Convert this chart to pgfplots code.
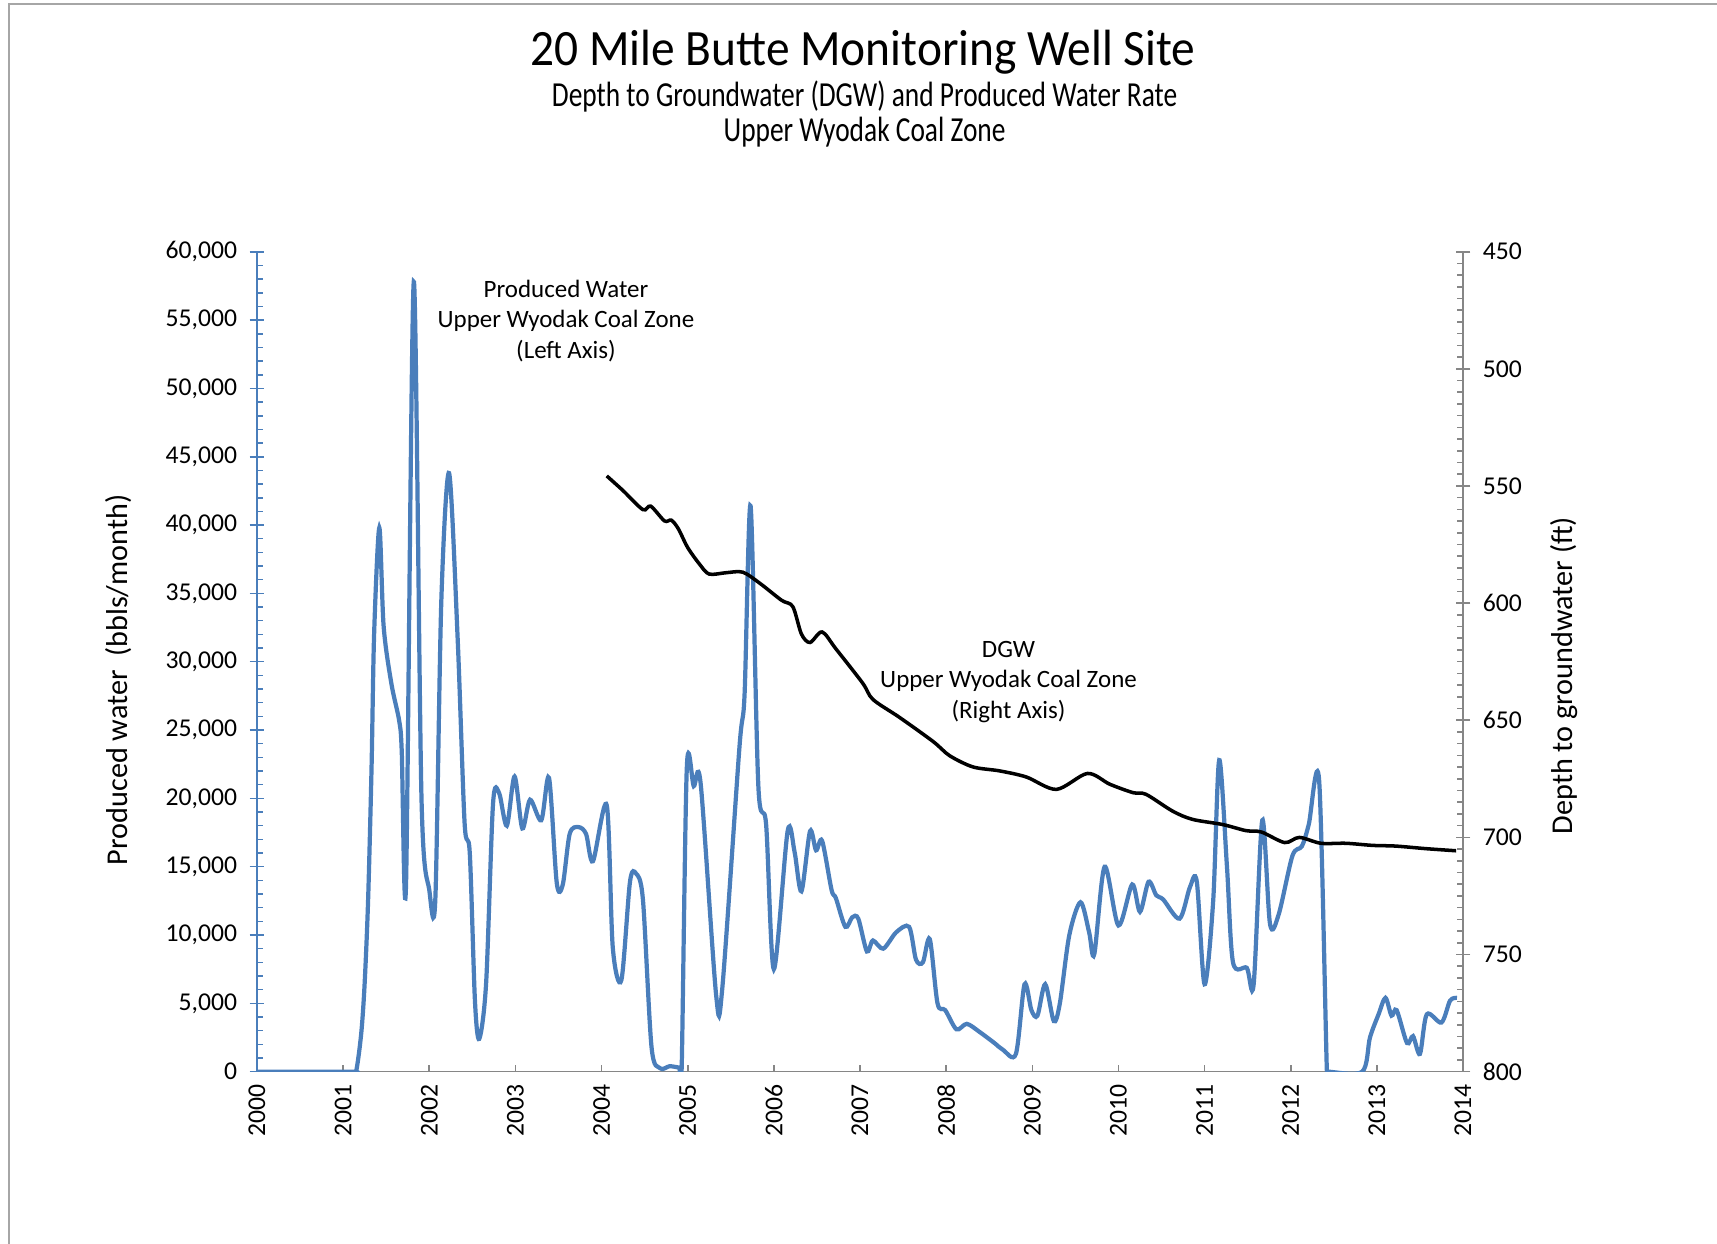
\documentclass[border=0pt]{standalone}
\usepackage{pgfplots}
\usepackage{pgfplotstable}
\pgfplotsset{compat=1.18}
\usepackage{fontspec}
\setmainfont{Carlito}
\definecolor{pwblue}{HTML}{4A7EBB}
\definecolor{axgray}{HTML}{868686}

% produced water, bbls/month (thousands), fractional year
\pgfplotstableread{
yr v
2000.00 0
2001.10 0
2001.15 0
2001.21 2.8
2001.25 6.5
2001.29 12.6
2001.33 22.3
2001.36 32.1
2001.42 39.8
2001.47 32.6
2001.56 28.4
2001.65 25.7
2001.68 23.5
2001.73 13.7
2001.82 57.8
2001.91 19.9
2002.00 13.3
2002.07 12.6
2002.14 34.5
2002.23 43.8
2002.33 31.6
2002.41 18.2
2002.47 16.0
2002.53 5.2
2002.58 2.4
2002.66 6.5
2002.74 19.6
2002.81 20.4
2002.90 18.0
2002.99 21.6
2003.08 17.8
2003.17 19.9
2003.30 18.4
2003.39 21.5
2003.48 13.8
2003.55 13.7
2003.63 17.4
2003.73 17.9
2003.82 17.4
2003.90 15.4
2004.06 19.5
2004.13 9.1
2004.23 6.7
2004.33 13.9
2004.40 14.5
2004.48 12.6
2004.58 1.8
2004.68 0.25
2004.79 0.4
2004.90 0.3
2004.93 0.3
2004.99 22.3
2005.07 20.9
2005.15 21.1
2005.33 5.6
2005.40 6.0
2005.60 23.7
2005.66 27.6
2005.73 41.4
2005.82 20.9
2005.91 18.1
2006.00 7.5
2006.16 17.6
2006.24 16.1
2006.32 13.2
2006.42 17.6
2006.49 16.2
2006.56 16.9
2006.67 13.3
2006.72 12.7
2006.83 10.6
2006.91 11.3
2006.98 11.2
2007.08 8.8
2007.15 9.6
2007.27 9.0
2007.42 10.2
2007.57 10.6
2007.65 8.2
2007.73 8.0
2007.81 9.7
2007.90 5.0
2007.99 4.5
2008.12 3.1
2008.24 3.5
2008.39 2.9
2008.56 2.1
2008.66 1.6
2008.81 1.3
2008.91 6.4
2008.99 4.5
2009.06 4.1
2009.15 6.4
2009.25 3.7
2009.32 5.0
2009.43 10.0
2009.56 12.4
2009.66 10.2
2009.72 8.6
2009.84 15.0
2010.00 10.7
2010.16 13.7
2010.25 11.7
2010.35 13.9
2010.44 12.9
2010.52 12.6
2010.71 11.2
2010.83 13.5
2010.91 13.9
2011.00 6.4
2011.10 12.5
2011.17 22.8
2011.26 15.0
2011.33 8.0
2011.49 7.6
2011.57 6.4
2011.67 18.4
2011.76 10.8
2011.86 11.5
2012.02 15.8
2012.13 16.5
2012.21 18.1
2012.33 21.3
2012.42 0
2012.44 0
2012.83 0
2012.92 2.5
2013.02 4.2
2013.10 5.4
2013.17 4.1
2013.23 4.5
2013.35 2.1
2013.42 2.6
2013.50 1.3
2013.58 4.2
2013.75 3.6
2013.85 5.2
2013.93 5.4
}\water

% depth to groundwater, ft
\pgfplotstableread{
yr d
2004.06 545.7
2004.25 552.0
2004.48 560.1
2004.57 558.6
2004.73 564.9
2004.81 564.6
2004.89 568.2
2005.00 576.3
2005.14 583.5
2005.25 587.6
2005.45 587.0
2005.64 586.8
2005.84 591.6
2006.09 598.8
2006.22 601.5
2006.32 613.2
2006.42 616.8
2006.56 612.3
2006.72 619.5
2007.03 634.1
2007.15 641.1
2007.46 648.8
2007.85 659.1
2008.04 665.1
2008.31 669.9
2008.62 671.6
2008.93 674.2
2009.28 679.5
2009.64 672.7
2009.90 677.3
2010.17 680.9
2010.32 681.6
2010.63 688.8
2010.86 692.3
2011.21 694.5
2011.48 697.1
2011.66 697.7
2011.93 702.2
2012.10 700.0
2012.35 702.5
2012.64 702.5
2012.95 703.4
2013.22 703.7
2013.57 704.8
2013.92 705.7
}\dgw

\pgfplotsset{
  base/.style={
    at={(2.57cm,1.723cm)}, anchor=south west,
    scale only axis, width=12.06cm, height=8.2cm,
    xmin=2000, xmax=2014,
    ticklabel style={font=\fontsize{7.3}{8}\selectfont},
    /pgf/number format/assume math mode=true,
    label style={font=\fontsize{8.6}{10}\selectfont},
  }
}

\begin{document}
\begin{tikzpicture}[x=1cm,y=1cm]
\useasboundingbox (0,0) rectangle (17.17,12.44);
\draw[gray!70, line width=0.6pt] (0.09,0) -- (0.09,12.40) -- (17.17,12.40);

% x axis
\begin{axis}[base, ymin=0, ymax=1, axis y line=none, axis x line*=bottom,
  xtick={2000,2001,...,2014}, minor x tick num=11,
  tick align=inside, major tick length=0.07cm, minor tick length=0.045cm,
  x axis line style={axgray, line width=0.45pt}, tick style={axgray, line width=0.45pt},
  xticklabel style={rotate=90, anchor=east, /pgf/number format/1000 sep={}},
]
\end{axis}

% produced water, left axis
\begin{axis}[base, ymin=0, ymax=60000, axis x line=none, axis y line*=left,
  ytick={0,5000,...,60000}, minor y tick num=4, scaled y ticks=false,
  tick align=center, major tick length=0.15cm, minor tick length=0.06cm,
  minor tick style={xshift=0.03cm},
  y axis line style={pwblue, line width=0.45pt}, tick style={pwblue, line width=0.45pt},
  yticklabel style={/pgf/number format/1000 sep={,}},
  ylabel={Produced water\ \ (bbls/month)},
  ylabel style={at={(axis description cs:-0.115,0.478)}, anchor=center},
]
\addplot[pwblue, line width=1.2pt, smooth, tension=0.5] table[x=yr, y expr=\thisrow{v}*1000] {\water};
\end{axis}

% depth to groundwater, right axis
\begin{axis}[base, ymin=450, ymax=800, y dir=reverse, axis x line=none, axis y line*=right,
  ytick={450,500,...,800}, minor y tick num=9,
  tick align=center, major tick length=0.15cm, minor tick length=0.06cm,
  minor tick style={xshift=-0.03cm},
  y axis line style={axgray, line width=0.45pt}, tick style={axgray, line width=0.45pt},
  ylabel={Depth to groundwater (ft)},
  ylabel style={at={(axis description cs:1.084,0.483)}, anchor=center},
]
\addplot[black, line width=1pt, smooth, tension=0.5] table[x=yr, y=d] {\dgw};
\end{axis}

\node at (8.63,11.92) {\fontsize{14.5}{16}\selectfont\scalebox{0.93}[1]{20 Mile Butte Monitoring Well Site}};
\node at (8.646,11.48) {\fontsize{10}{12}\selectfont\scalebox{0.78}[1]{Depth to Groundwater (DGW) and Produced Water Rate}};
\node at (8.646,11.115) {\fontsize{10}{12}\selectfont\scalebox{0.78}[1]{Upper Wyodak Coal Zone}};

\node[align=center, font=\fontsize{7.1}{8.6}\selectfont] at (5.66,9.23) {Produced Water\\Upper Wyodak Coal Zone\\(Left Axis)};
\node[align=center, font=\fontsize{7.1}{8.6}\selectfont] at (10.085,5.62) {DGW\\Upper Wyodak Coal Zone\\(Right Axis)};
\end{tikzpicture}
\end{document}
